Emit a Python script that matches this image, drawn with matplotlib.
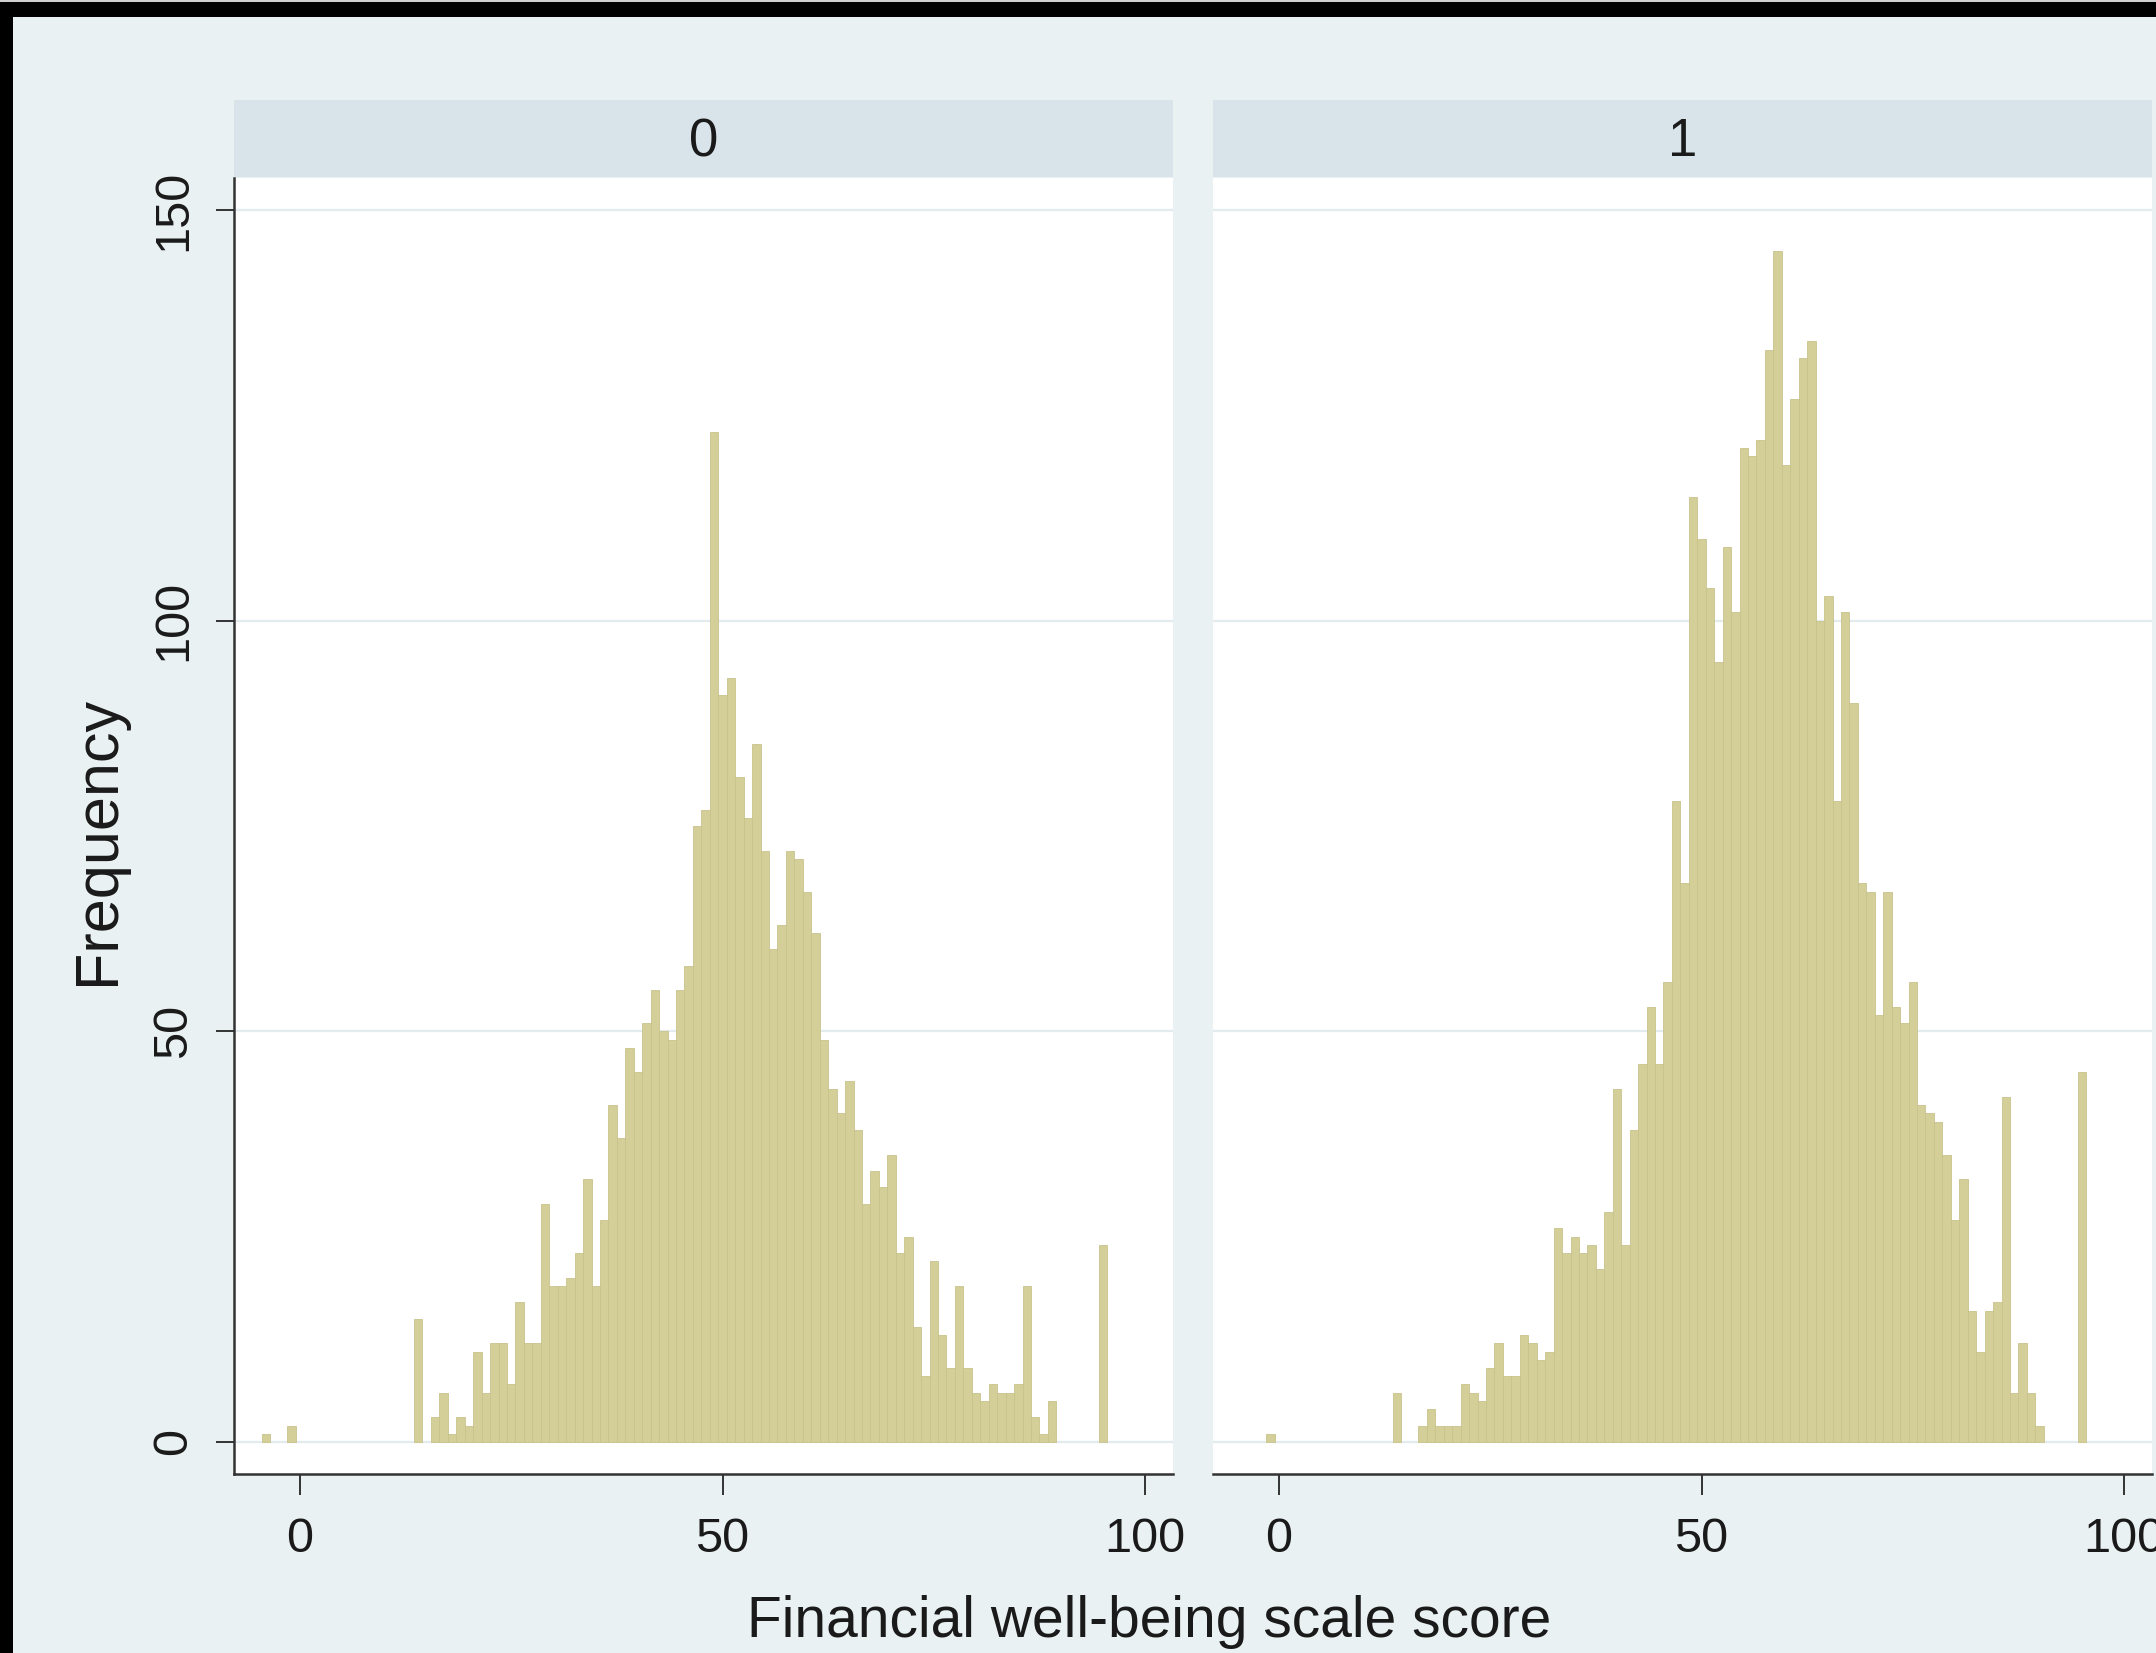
import numpy as np
import matplotlib.pyplot as plt
from matplotlib.patches import Rectangle

# Financial well-being scale score, one bar per integer score
scores = np.arange(-4, 96)

freq_0 = [1, 0, 0, 2, 0, 0, 0, 0, 0, 0, 0, 0, 0, 0, 0, 0, 0, 0,
          15, 0, 3, 6, 1, 3, 2, 11, 6, 12, 12, 7, 17, 12, 12, 29,
          19, 19, 20, 23, 32, 19, 27, 41, 37, 48,
          45, 51, 55, 50, 49, 55, 58, 75, 77, 123,
          91, 93, 81, 76, 85, 72, 60, 63, 72, 71,
          67, 62, 49, 43, 40, 44, 38, 29, 33, 31,
          35, 23, 25, 14, 8, 22, 13, 9, 19, 9,
          6, 5, 7, 6, 6, 7, 19, 3, 1, 5,
          0, 0, 0, 0, 0, 24]

freq_1 = [0, 0, 0, 1, 0, 0, 0, 0, 0, 0, 0, 0, 0, 0, 0, 0, 0, 0,
          6, 0, 0, 2, 4, 2, 2, 2, 7, 6, 5, 9, 12, 8, 8, 13,
          12, 10, 11, 26, 23, 25, 23, 24, 21, 28,
          43, 24, 38, 46, 53, 46, 56, 78, 68, 115,
          110, 104, 95, 109, 101, 121, 120, 122, 133, 145,
          119, 127, 132, 134, 100, 103, 78, 101, 90, 68,
          67, 52, 67, 53, 51, 56, 41, 40, 39, 35,
          27, 32, 16, 11, 16, 17, 42, 6, 12, 6,
          2, 0, 0, 0, 0, 45]

groups = ['0', '1']
xticks = [0, 50, 100]
yticks = [0, 50, 100, 150]

BG = '#EAF1F3'
STRIP = '#D8E3EA'
BAR = '#D4CF98'
BAR_EDGE = '#C8C38B'
AXIS = '#333333'
GRID = '#E3EBEE'
TXT = '#1a1a1a'

plt.rcParams['font.family'] = ['Liberation Sans', 'DejaVu Sans']

W, H = 2156, 1653
fig = plt.figure(figsize=(W / 100, H / 100), dpi=100, facecolor=BG)

panel_left = [234, 1213]
panel_w = 939
top, bottom = 178, 1474

for i, (g, freq) in enumerate(zip(groups, [freq_0, freq_1])):
    x0 = panel_left[i]
    ax = fig.add_axes([x0 / W, 1 - bottom / H, panel_w / W, (bottom - top) / H])
    ax.set_facecolor('white')
    freq = np.asarray(freq)
    keep = freq > 0  # empty bins leave no outline on the baseline
    ax.bar(scores[keep], freq[keep], width=1.0, color=BAR, edgecolor=BAR_EDGE,
           linewidth=0.6, zorder=2)
    ax.set_xlim(-7.8, 103.3)
    ax.set_ylim(-3.9, 153.9)
    ax.set_xticks(xticks)
    ax.set_yticks(yticks)
    ax.yaxis.grid(True, color=GRID, linewidth=1.6, zorder=0)
    ax.set_axisbelow(True)
    for side in ['top', 'right']:
        ax.spines[side].set_visible(False)
    ax.spines['bottom'].set_color(AXIS)
    ax.spines['bottom'].set_linewidth(1.8)
    ax.tick_params(axis='x', length=15, width=1.4, color=AXIS, pad=16,
                   labelsize=35, labelcolor=TXT)
    if i == 0:
        ax.spines['left'].set_color(AXIS)
        ax.spines['left'].set_linewidth(1.8)
        ax.tick_params(axis='y', length=13, width=1.4, color=AXIS, pad=14,
                       labelsize=35, labelcolor=TXT, labelrotation=90)
        for lbl in ax.get_yticklabels():
            lbl.set_verticalalignment('center')
    else:
        ax.spines['left'].set_visible(False)
        ax.tick_params(axis='y', left=False, labelleft=False)

    # panel header strip
    sax = fig.add_axes([x0 / W, 1 - 177 / H, panel_w / W, 77 / H])
    sax.set_facecolor(STRIP)
    sax.set_xticks([])
    sax.set_yticks([])
    for s in sax.spines.values():
        s.set_visible(False)
    sax.text(0.5, 0.45, g, ha='center', va='center', fontsize=38, color=TXT,
             transform=sax.transAxes)

fig.text(1149 / W, 1 - 1622 / H, 'Financial well-being scale score',
         ha='center', va='center', fontsize=41, color=TXT)
fig.text(99 / W, 1 - 840 / H, 'Frequency', rotation=90,
         ha='center', va='center', fontsize=44, color=TXT)

# window frame around the graph
fig.patches.append(Rectangle((0, 1 - 17 / H), 1, 17 / H, transform=fig.transFigure,
                             facecolor='black', edgecolor='none', zorder=10))
fig.patches.append(Rectangle((0, 0), 13 / W, 1, transform=fig.transFigure,
                             facecolor='black', edgecolor='none', zorder=10))
fig.patches.append(Rectangle((0, 1 - 2 / H), 1, 2 / H, transform=fig.transFigure,
                             facecolor='#cfcfcf', edgecolor='none', zorder=11))

fig.savefig('out.png', dpi=100, facecolor=BG)
